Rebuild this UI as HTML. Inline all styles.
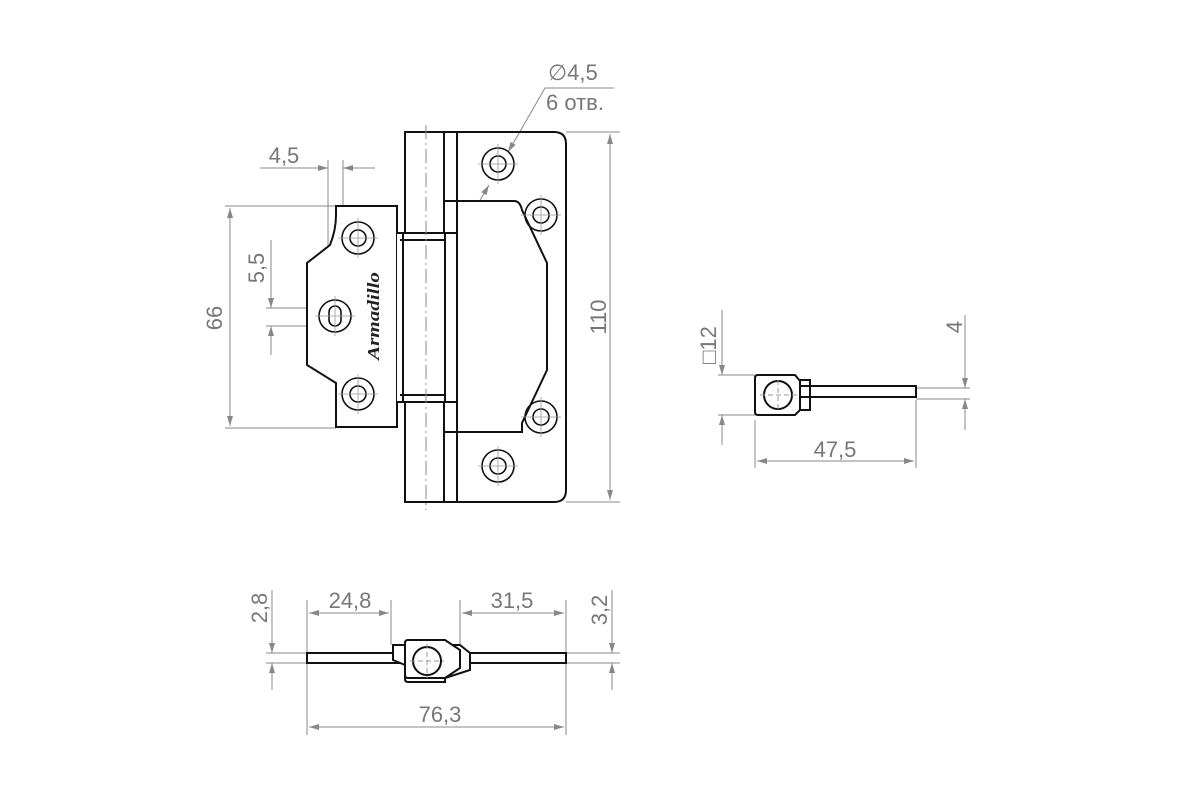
<!DOCTYPE html>
<html><head><meta charset="utf-8"><style>
html,body{margin:0;padding:0;background:#fff;width:1200px;height:800px;overflow:hidden}
text{font-family:"Liberation Sans",sans-serif;fill:#777;font-size:22px}
</style></head><body>
<svg width="1200" height="800" viewBox="0 0 1200 800" xmlns="http://www.w3.org/2000/svg">
<defs>
<marker id="a" viewBox="0 0 10 6" refX="10" refY="3" markerWidth="14" markerHeight="6" markerUnits="userSpaceOnUse" orient="auto-start-reverse"><path d="M0,0L10,3L0,6z" fill="#888"/></marker>
<g id="hole"><circle r="16" fill="none" stroke="#111" stroke-width="1.6"/><circle r="8" fill="none" stroke="#111" stroke-width="1.6"/><path d="M-20,0H20M0,-20V20" stroke="#999" stroke-width="0.8"/></g>
</defs>
<g stroke="#888" stroke-width="1" fill="none">
<path d="M566,132H620M566,502H620"/>
<path d="M610,134V500" marker-start="url(#a)" marker-end="url(#a)"/>
<path d="M336,206H225M336,428H225"/>
<path d="M230,208V426" marker-start="url(#a)" marker-end="url(#a)"/>
<path d="M266,308H340M266,326H340"/>
<path d="M271,240V308" marker-end="url(#a)"/><path d="M271,355V326" marker-end="url(#a)"/>
<path d="M328,160V330M343,160V330"/>
<path d="M260,168H328" marker-end="url(#a)"/><path d="M375,168H343" marker-end="url(#a)"/>
<path d="M614,88H545L518,135"/>
<path d="M518,135L508,152" marker-end="url(#a)"/>
<path d="M479,202L489,185" marker-end="url(#a)"/>
<path d="M755,375H718M755,415H718M916,388H970M916,399H970M755,420V468M916,400V468"/>
<path d="M722,310V375" marker-end="url(#a)"/><path d="M722,445V415" marker-end="url(#a)"/>
<path d="M965,315V388" marker-end="url(#a)"/><path d="M965,430V399" marker-end="url(#a)"/>
<path d="M757,461H914" marker-start="url(#a)" marker-end="url(#a)"/>
<path d="M307,600V735M391,600V645M460,600V645M566,600V735"/>
<path d="M266,653H620M266,663H620"/>
<path d="M309,613H389" marker-start="url(#a)" marker-end="url(#a)"/>
<path d="M462,613H564" marker-start="url(#a)" marker-end="url(#a)"/>
<path d="M309,727H564" marker-start="url(#a)" marker-end="url(#a)"/>
<path d="M272,590V653" marker-end="url(#a)"/><path d="M272,690V663" marker-end="url(#a)"/>
<path d="M612,590V653" marker-end="url(#a)"/><path d="M612,690V663" marker-end="url(#a)"/>
</g>
<g stroke="#111" stroke-width="2" fill="none">
<path d="M405,132H554Q566,132 566,144V490Q566,502 554,502H405Z"/>
<path d="M444,132V502M457,132V502"/>
<path d="M445,201H514Q520,201 522,210L547,263V370L522,423V432H445"/>
<path d="M336,206H397V427H336V383L307,365V263L330,245Q336,230 336,215Z" fill="#fff"/>
<path d="M397,233H457V402H397" fill="#fff"/>
<path d="M403,233V402M445,233V402M400,240H445M400,395H445"/>
</g>
<path d="M426,125V510" stroke="#888" stroke-width="1" stroke-dasharray="14,4,2,4"/>
<use href="#hole" x="358" y="238"/><use href="#hole" x="358" y="394"/>
<g transform="translate(335,316)"><circle r="16" fill="none" stroke="#111" stroke-width="1.6"/><rect x="-6" y="-10" width="12" height="20" rx="6" fill="none" stroke="#111" stroke-width="1.6"/><path d="M-20,0H20M0,-20V20" stroke="#999" stroke-width="0.8"/></g>
<use href="#hole" x="498" y="164"/><use href="#hole" x="541" y="215"/><use href="#hole" x="541" y="417"/><use href="#hole" x="498" y="466"/>
<text transform="translate(379,316) rotate(-90)" text-anchor="middle" textLength="88" lengthAdjust="spacingAndGlyphs" style="font-family:'Liberation Serif',serif;font-weight:bold;font-style:italic;font-size:17px;fill:#222">Armadillo</text>
<g stroke="#111" stroke-width="2" fill="#fff">
<path d="M800,386H916V397H800Z"/>
<path d="M758,375H795L800,381V410L795,415H758Q755,415 755,412V378Q755,375 758,375Z"/>
<circle cx="778" cy="395" r="14"/>
<path d="M800,380H810V410H800" fill="none"/>
</g>
<path d="M760,395H797M778,380V410" stroke="#999" stroke-dasharray="5,3"/>
<g stroke="#111" stroke-width="2" fill="#fff">
<path d="M307,653H403V663H307Z"/><path d="M460,653H566V663H460Z"/>
<path d="M393,645H460L470,653V670L445,678V682H408Q405,682 405,679V665L393,660Z"/>
<path d="M408,640H445L460,650V668L445,678H408Q405,678 405,675V643Q405,640 408,640Z"/>
<circle cx="427" cy="661" r="14"/>
</g>
<path d="M410,661H444M427,644V678" stroke="#999" stroke-dasharray="5,3"/>
<text x="548" y="80">∅4,5</text>
<text x="546" y="110">6 отв.</text>
<text transform="translate(606,317) rotate(-90)" text-anchor="middle">110</text>
<text transform="translate(222,318) rotate(-90)" text-anchor="middle">66</text>
<text transform="translate(264,268) rotate(-90)" text-anchor="middle">5,5</text>
<text x="284" y="163" text-anchor="middle">4,5</text>
<text transform="translate(716,345) rotate(-90)" text-anchor="middle">□12</text>
<text transform="translate(962,327) rotate(-90)" text-anchor="middle">4</text>
<text x="835" y="457" text-anchor="middle">47,5</text>
<text x="350" y="608" text-anchor="middle">24,8</text>
<text x="512" y="608" text-anchor="middle">31,5</text>
<text x="440" y="722" text-anchor="middle">76,3</text>
<text transform="translate(267,608) rotate(-90)" text-anchor="middle">2,8</text>
<text transform="translate(607,610) rotate(-90)" text-anchor="middle">3,2</text>
</svg>
</body></html>
